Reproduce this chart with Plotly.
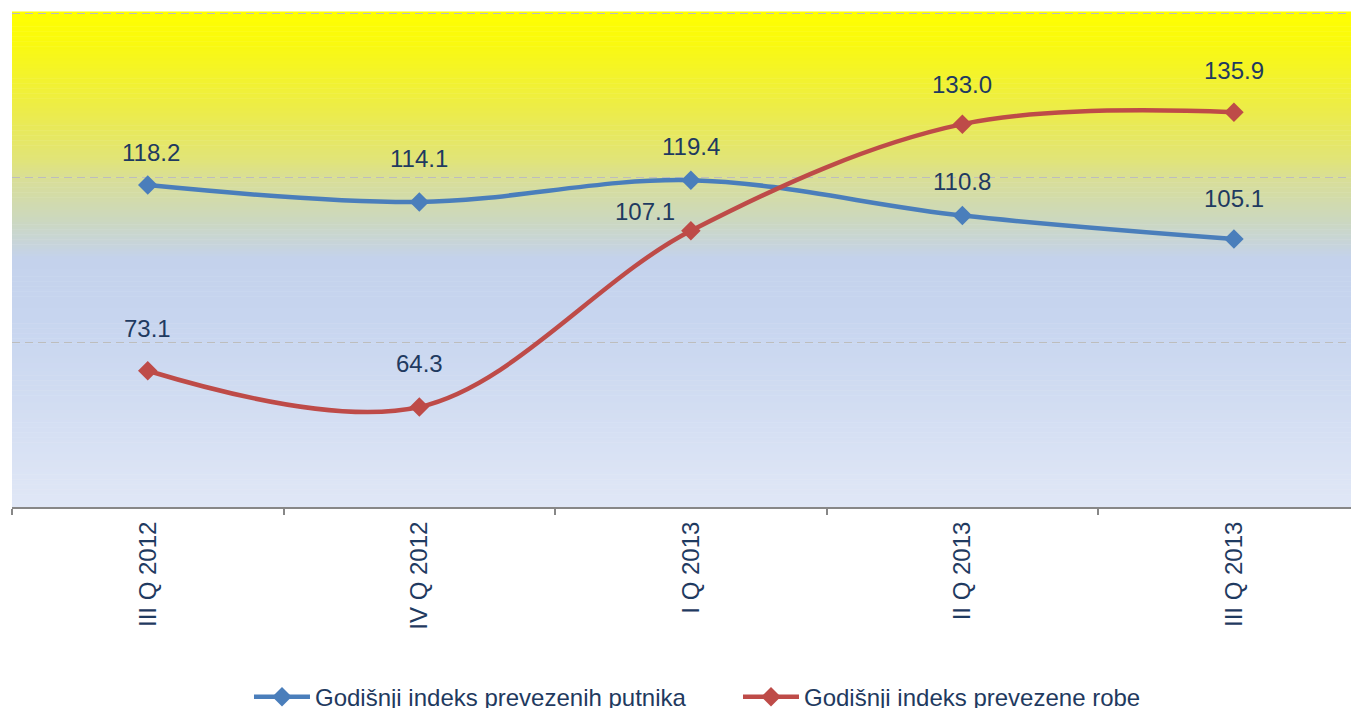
import plotly.graph_objects as go
import numpy as np

# ---- data ----
categories = ["III Q 2012", "IV Q 2012", "I Q 2013", "II Q 2013", "III Q 2013"]
passengers = [118.2, 114.1, 119.4, 110.8, 105.1]
goods = [73.1, 64.3, 107.1, 133.0, 135.9]
series_names = ["Godišnji indeks prevezenih putnika", "Godišnji indeks prevezene robe"]
y_tick_values = [40, 80, 120, 160]

# ---- style ----
blue = "#4A7EBB"
red = "#BE4B48"
text_col = "#1F3A60"
font_family = "Liberation Sans, Arial, sans-serif"
# label offsets (px): (dx, dy upward)
label_off_passengers = [(3, 33), (0, 43), (0, 34), (0, 34), (0, 41)]
label_off_goods = [(0, 42), (0, 43), (-46, 19), (0, 40), (0, 42)]

fig = go.Figure()

# gradient background bands (paper coords inside plot area)
stops = [
    (0.00, (255, 255, 0)),
    (0.06, (250, 250, 14)),
    (0.20, (236, 236, 74)),
    (0.30, (225, 228, 120)),
    (0.34, (216, 222, 152)),
    (0.42, (204, 216, 190)),
    (0.50, (196, 210, 236)),
    (0.62, (199, 213, 239)),
    (0.80, (210, 221, 242)),
    (1.00, (224, 231, 246)),
]
n_bands = 200
sf = np.array([s[0] for s in stops])
sc = np.array([s[1] for s in stops], dtype=float)
for i in range(n_bands):
    f0 = i / n_bands
    f1 = (i + 1) / n_bands
    fm = (f0 + f1) / 2
    c = [np.interp(fm, sf, sc[:, k]) for k in range(3)]
    fig.add_shape(
        type="rect", xref="paper", yref="paper",
        x0=0, x1=1, y0=1 - f1, y1=1 - f0 + 0.001,
        fillcolor="rgb(%d,%d,%d)" % tuple(int(round(v)) for v in c),
        line=dict(width=0), layer="below",
    )

for name, vals, col in [(series_names[0], passengers, blue), (series_names[1], goods, red)]:
    fig.add_trace(go.Scatter(
        x=categories, y=vals, name=name, mode="lines+markers",
        line=dict(color=col, width=4.5, shape="spline", smoothing=1.0),
        marker=dict(symbol="diamond", size=15, color=col),
    ))

for vals, offs in [(passengers, label_off_passengers), (goods, label_off_goods)]:
    for c, v, (dx, dy) in zip(categories, vals, offs):
        fig.add_annotation(
            x=c, y=v, text=f"{v:.1f}", showarrow=False,
            xshift=dx, yshift=dy,
            font=dict(size=24, color=text_col, family=font_family),
        )

fig.update_layout(
    width=1359, height=708,
    margin=dict(l=4, r=0, t=4, b=209, autoexpand=False),
    paper_bgcolor="white", plot_bgcolor="white",
    font=dict(family=font_family, size=24, color=text_col),
    showlegend=True,
    legend=dict(
        orientation="h", x=0.1749, xanchor="left",
        y=-0.384, yanchor="middle",
        font=dict(size=24, color=text_col, family=font_family),
        itemwidth=56, entrywidth=418, bgcolor="rgba(0,0,0,0)",
    ),
    xaxis=dict(
        type="category", range=[-0.5, 4.49],
        showgrid=False, showline=True, linecolor="#878787", linewidth=2,
        ticks="outside", tickson="boundaries", ticklen=6, tickcolor="#878787", tickwidth=1.5,
        tickangle=-90, tickfont=dict(size=24, color=text_col, family=font_family),
        ticklabelstandoff=3, zeroline=False,
    ),
    yaxis=dict(
        range=[40, 160.25], tickvals=y_tick_values, showticklabels=False,
        showgrid=True, gridcolor="#BDBDBD", griddash="8px,5px", gridwidth=1,
        zeroline=False, showline=False, ticks="",
    ),
)

fig.write_html("out.html")
